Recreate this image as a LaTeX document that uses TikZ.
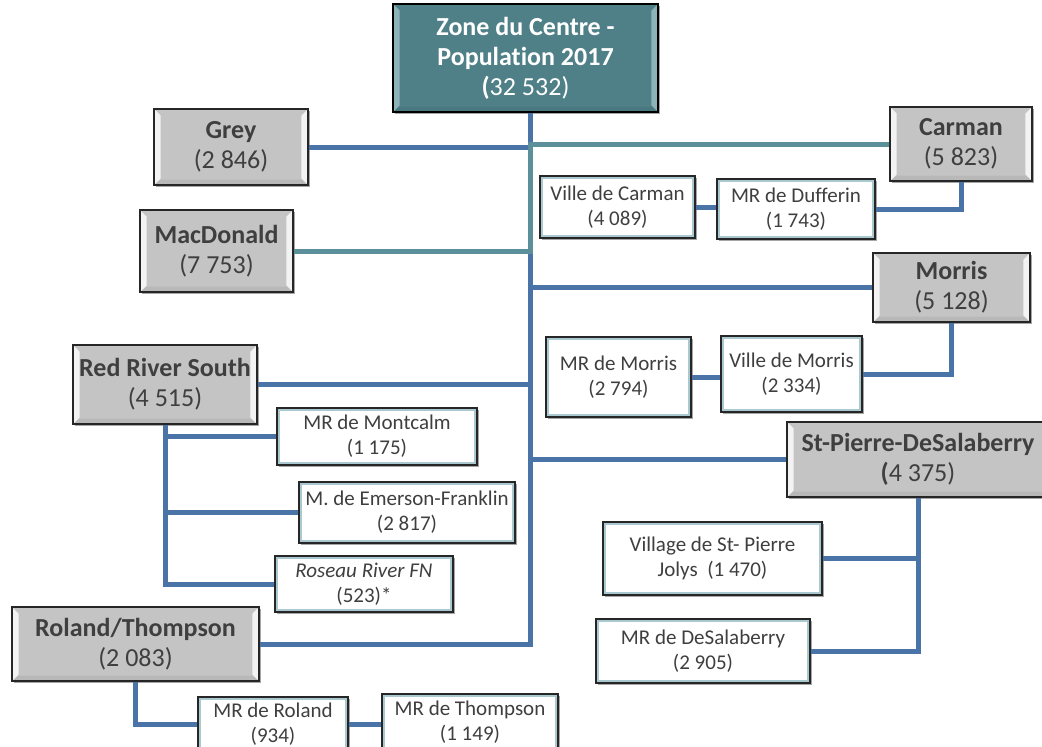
\documentclass[tikz,border=0pt]{standalone}
\usepackage{fontspec}
\setmainfont[Ligatures={NoCommon}]{Carlito}
\usepackage{tikz}
\usetikzlibrary{shadows}

\definecolor{linkblue}{HTML}{4A73A8}
\definecolor{linkteal}{HTML}{5B8F99}
\definecolor{zonefill}{HTML}{4F8088}
\definecolor{zonebevel}{HTML}{9BC0C5}
\definecolor{regionfill}{HTML}{C4C4C4}
\definecolor{subrim}{HTML}{A9C8D0}
\definecolor{txtgray}{HTML}{3F3F3F}

\tikzset{
  bevel/.style={path picture={
    \fill[#1, opacity=.8] (path picture bounding box.north west)
      -- ([shift={(5pt,-5pt)}]path picture bounding box.north west)
      -- ([shift={(5pt,5pt)}]path picture bounding box.south west)
      -- (path picture bounding box.south west) -- cycle;
    \fill[#1, opacity=.8] (path picture bounding box.north east)
      -- ([shift={(-5pt,-5pt)}]path picture bounding box.north east)
      -- ([shift={(-5pt,5pt)}]path picture bounding box.south east)
      -- (path picture bounding box.south east) -- cycle;
    \fill[black, opacity=.06] (path picture bounding box.south west)
      -- ([shift={(5pt,4pt)}]path picture bounding box.south west)
      -- ([shift={(-5pt,4pt)}]path picture bounding box.south east)
      -- (path picture bounding box.south east) -- cycle;}},
  rim/.style={path picture={
    \draw[subrim, line width=4pt] (path picture bounding box.south west)
      rectangle (path picture bounding box.north east);}},
  soft shadow/.style={drop shadow={shadow xshift=1.5pt, shadow yshift=-1.5pt, opacity=.35, fill=black}}
}

\begin{document}
\begin{tikzpicture}
[x=0.75pt, y=-0.75pt,
sz/.style 2 args={minimum width=#1*0.75pt, minimum height=#2*0.75pt},
zone node/.style={draw=black, line width=1.2pt, fill=zonefill, text=white, align=center,
  inner sep=0pt, font=\fontsize{19.5}{22.5}\selectfont, soft shadow, bevel=zonebevel},
region node/.style={draw=black!85, line width=1.2pt, fill=regionfill, text=txtgray, align=center,
  inner sep=0pt, font=\fontsize{19.5}{22.5}\selectfont, soft shadow, bevel=white},
sub node/.style={draw=black!85, line width=1.2pt, fill=white, text=txtgray, align=center,
  inner sep=0pt, font=\fontsize{15.75}{18.75}\selectfont, soft shadow, rim},
link/.style={draw=linkblue, line width=3.75pt},
teal link/.style={draw=linkteal, line width=3.75pt}]

  \useasboundingbox (0,0) rectangle (1042,746);

  % top of the tree
  \node[zone node, sz={265}{108}] (zone) at (525.5,58)
    {\bfseries Zone du Centre -\\\bfseries Population 2017\\{\bfseries(}32 532)};

  % regions
  \node[region node, sz={154}{76}] (grey) at (231,147) {{\bfseries Grey}\\(2 846)};
  \node[region node, sz={142}{74}] (carman) at (961,144) {{\bfseries Carman}\\(5 823)};
  \node[region node, sz={153}{82}] (macdonald) at (216.5,251) {{\bfseries MacDonald}\\(7 753)};
  \node[region node, sz={157}{69}] (morris) at (951.5,287.5) {{\bfseries Morris}\\(5 128)};
  \node[region node, sz={184}{79}] (rrs) at (165,384.5) {{\bfseries Red River South}\\(4 515)};
  \node[region node, sz={262}{75}] (stpierre) at (918,459.5)
    {{\bfseries St-Pierre-DeSalaberry}\\{\bfseries(}4 375)};
  \node[region node, sz={247}{74}] (roland) at (135.5,644) {{\bfseries Roland/Thompson}\\(2 083)};

  % municipalities
  \node[sub node, sz={155}{62}] (villecarman) at (617.5,207) {Ville de Carman\\(4 089)};
  \node[sub node, sz={158}{60}] (dufferin) at (796,209) {MR de Dufferin\\(1 743)};
  \node[sub node, sz={145}{80}] (mrmorris) at (618.5,377) {MR de Morris\\(2 794)};
  \node[sub node, sz={141}{76}] (villemorris) at (791.5,374) {Ville de Morris\\(2 334)};
  \node[sub node, sz={200}{57}] (montcalm) at (377,436.5) {MR de Montcalm\\(1 175)};
  \node[sub node, sz={216}{61}] (emerson) at (407,512.5) {M. de Emerson-Franklin\\(2 817)};
  \node[sub node, sz={178}{56}] (roseau) at (364,584) {\itshape Roseau River FN\\(523)*};
  \node[sub node, sz={219}{73}] (village) at (712.5,558.5) {Village de St- Pierre\\Jolys\ \ (1 470)};
  \node[sub node, sz={214}{64}] (desalaberry) at (703,651) {MR de DeSalaberry\\(2 905)};
  \node[sub node, sz={150}{54}] (mrroland) at (273,724) {MR de Roland\\(934)};
  \node[sub node, sz={176}{56}] (mrthompson) at (470,722) {MR de Thompson\\(1 149)};

  % trunk and branches
  \coordinate (tb) at (530,644);
  \draw[link] (zone.south -| tb) -- (tb) -- (roland.east);
  \draw[link] (grey.east) -- (grey.east -| tb);
  \draw[teal link] (carman.west) -- (carman.west -| tb) -- (macdonald.east -| tb) -- (macdonald.east);
  \draw[link] (morris.west) -- (morris.west -| tb);
  \draw[link] (rrs.east) -- (rrs.east -| tb);
  \draw[link] (stpierre.west) -- (stpierre.west -| tb);

  \draw[link] (carman.south) |- (dufferin.east);
  \draw[link] (villecarman.east) -- (villecarman.east -| dufferin.west);
  \draw[link] (morris.south) |- (villemorris.east);
  \draw[link] (mrmorris.east) -- (mrmorris.east -| villemorris.west);

  \draw[link] (rrs.south) |- (roseau.west);
  \draw[link] (rrs.south |- montcalm.west) -- (montcalm.west);
  \draw[link] (rrs.south |- emerson.west) -- (emerson.west);

  \draw[link] (stpierre.south) |- (desalaberry.east);
  \draw[link] (stpierre.south |- village.east) -- (village.east);

  \draw[link] (roland.south) |- (mrroland.west);
  \draw[link] (mrroland.east) -- (mrroland.east -| mrthompson.west);

\end{tikzpicture}
\end{document}
